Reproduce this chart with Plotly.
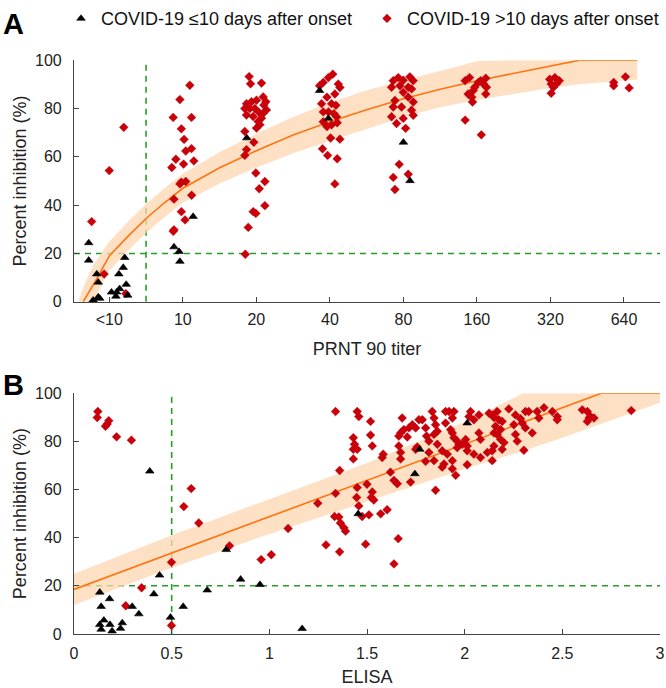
import plotly.graph_objects as go

# ---------------- Panel A data (x = index of PRNT90 titer category) ----------------
titer_labels = ["<10", "10", "20", "40", "80", "160", "320", "640"]
titer_pos = [0, 1, 2, 3, 4, 5, 6, 7]

a_early_x = [-0.28, -0.28, -0.17, -0.15, -0.22, -0.15, -0.13, 0.21, 0.19, 0.13, 0.03, 0.10, 0.14, 0.23, 0.25, 0.09,
             1.14, 0.88, 0.95, 0.96,
             1.87,
             2.86, 2.98,
             4.00, 4.09]
a_early_y = [24.4, 17.2, 11.5, 8.1, 0.7, 2.0, 1.4, 18.3, 14.2, 11.5, 4.0, 4.0, 5.4, 7.2, 2.7, 2.3,
             35.3, 22.7, 20.8, 16.7,
             67.8,
             87.4, 75.9,
             66.0, 50.1]

a_late_x = [-0.24, 0.0, 0.197, -0.07, 0.225,
            1.095, 0.96, 0.869, 1.118, 0.98, 1.017, 1.04, 1.118, 0.905, 1.15, 1.01, 0.85, 0.98, 1.04, 0.96, 1.12, 0.88,
            0.98, 1.03, 0.88, 0.87,
            1.902, 1.921, 2.07, 1.866, 1.934, 2.002, 2.093, 2.129, 2.102, 2.138, 1.843, 1.912, 1.98, 2.039, 2.093, 2.07,
            2.025, 2.002, 2.048, 1.866, 1.957, 1.843, 1.966, 1.866, 1.843, 1.993, 2.116, 2.039, 2.116, 1.957, 1.993,
            1.89, 1.85,
            3.04, 2.98, 2.91, 2.86, 3.114, 3.136, 3.068, 2.96, 2.887, 3.023, 3.082, 2.91, 2.98, 3.054, 3.091, 2.91,
            2.96, 3.023, 3.1, 3.01, 3.136, 2.9, 2.969, 3.1, 3.068,
            3.862, 3.93, 3.998, 4.088, 4.134, 3.839, 3.952, 4.066, 4.111, 3.998, 4.066, 4.134, 3.885, 3.862, 3.975,
            4.111, 4.134, 3.839, 3.907, 3.998, 4.03, 3.943, 3.862, 4.066, 3.885,
            4.84, 4.9, 4.88, 4.93, 4.94, 4.97, 5.02, 5.05, 5.09, 5.12, 5.13, 5.12, 4.84, 5.06, 4.95,
            5.99, 6.06, 6.12, 6.01, 6.08, 6.04, 6.01,
            6.86, 6.86, 7.02, 7.07]
a_late_y = [33.2, 54.3, 72.2, 11.5, 3.4,
            89.6, 83.7, 76.3, 76.3, 71.6, 67.2, 62.4, 63.4, 59.0, 58.3, 57.0, 55.6, 49.5, 49.8, 48.8, 44.1, 42.5,
            37.3, 33.9, 29.8, 29.2,
            93.2, 90.2, 90.5, 82.0, 82.8, 83.4, 84.8, 82.8, 81.4, 79.4, 80.0, 80.0, 80.0, 78.3, 78.0, 76.0,
            74.6, 71.9, 73.3, 77.3, 76.7, 70.5, 66.0, 63.0, 60.6, 53.3, 49.8, 46.8, 39.8, 37.3, 36.6,
            30.8, 19.7,
            94.2, 92.8, 90.8, 89.4, 90.1, 88.7, 86.0, 84.7, 82.0, 82.0, 81.3, 78.6, 78.6, 77.9, 76.6, 74.5,
            72.5, 73.2, 74.1, 67.8, 67.3, 63.3, 60.6, 59.2, 48.8,
            91.5, 92.8, 91.7, 93.1, 91.5, 88.8, 89.4, 88.8, 88.1, 86.7, 84.7, 82.7, 83.3, 80.6, 80.6,
            79.3, 77.2, 76.6, 73.8, 75.9, 71.8, 56.9, 51.5, 52.8, 46.5,
            91.5, 92.8, 86.0, 84.7, 82.7, 88.8, 90.8, 91.5, 90.1, 92.5, 88.8, 86.0, 75.2, 69.1, 87.4,
            92.1, 92.8, 91.5, 90.1, 90.1, 88.8, 86.3,
            90.8, 89.4, 93.1, 88.5]

# fitted curve and confidence band
fitA_x = [-0.356, -0.2, 0, 0.25, 0.5, 0.75, 1, 1.5, 2, 2.5, 3, 3.5, 4, 4.5, 5, 5.5, 6, 6.4, 7.18]
fitA_y = [0, 8, 19, 27, 34.5, 41, 47, 55.5, 62.5, 69, 74.5, 79.5, 84, 88, 91.5, 94.5, 97.5, 100, 100]
bandA_x = [-0.42, -0.356, -0.22, 0, 0.25, 0.5, 0.75, 1, 1.5, 2, 2.5, 3, 3.5, 4, 4.5, 5, 5.5, 6, 6.4, 7.18]
bandA_lo = [0, 0, 0, 13, 21, 28.5, 35, 41, 49, 55.5, 61.5, 66.5, 71.5, 76.5, 80.5, 83.5, 86, 88.5, 90, 92]
bandA_hi = [0, 6, 15, 25, 33, 40.5, 47, 53, 62, 69.5, 76.5, 82.5, 87.5, 91.5, 95.5, 99.5, 100, 100, 100, 100]

# ---------------- Panel B data (ELISA) ----------------
b_early_x = [0.388, 0.779, 0.438, 0.853, 0.952, 0.682, 0.409, 0.132, 0.182, 0.139, 0.298, 0.332, 0.559, 0.494,
             0.153, 0.132, 0.184, 0.139, 0.195, 0.247, 0.238, 1.168, 1.455, 1.745, 1.77, 2.013]
b_early_y = [67.6, 35.0, 24.4, 22.7, 20.5, 18.2, 16.6, 17.3, 14.6, 11.4, 11.4, 8.3, 11.4, 6.9,
             5.7, 3.9, 3.9, 1.9, 1.2, 4.6, 2.3, 2.2, 49.9, 66.5, 76.7, 87.6]

b_late_x = [0.122, 0.119, 0.178, 0.17, 0.161, 0.218, 0.294, 0.6, 0.562, 0.639, 0.796, 0.958, 1.01, 0.499, 0.346,
            0.265, 0.499,
            1.096, 1.248, 1.29, 1.339, 1.36, 1.339, 1.334, 1.356, 1.364, 1.382, 1.39, 1.36, 1.43, 1.436, 1.43, 1.45,
            1.43, 1.45, 1.458, 1.518, 1.518, 1.527, 1.45, 1.447, 1.458, 1.475, 1.493, 1.5, 1.527, 1.522, 1.535,
            1.51, 1.57, 1.603, 1.583, 1.578, 1.62, 1.638, 1.655, 1.638, 1.66, 1.663, 1.672, 1.68, 1.689, 1.663,
            1.672, 1.672, 1.706, 1.715, 1.723, 1.732, 1.749, 1.766, 1.783, 1.749, 1.757, 1.80, 1.817, 1.80, 1.805,
            1.817, 1.834, 1.843, 1.851, 1.843, 1.851, 1.843, 1.86, 1.86, 1.885, 1.894, 1.911, 1.885, 1.902, 1.92,
            1.937, 1.945, 1.902, 1.928, 1.937, 1.945, 1.962, 1.962, 1.971, 1.937, 1.937, 1.954,
            2.03, 2.022, 2.073, 2.047, 2.125, 2.141, 2.166, 2.15, 2.175, 2.192, 2.226, 2.26, 2.286, 2.311, 2.328,
            2.371, 2.406, 2.38, 2.449, 2.474, 2.474, 2.252, 2.295, 2.311, 2.346, 2.158, 2.184, 2.166, 2.15, 2.073,
            2.081, 2.005, 2.013, 1.988, 2.184, 2.201, 2.192, 2.15, 2.141, 2.26, 2.269, 2.303, 2.116, 2.081, 2.047,
            2.013, 2.141, 2.013, 2.628, 2.602, 2.645, 2.637, 2.662, 2.628, 2.853]
b_late_y = [92.4, 89.9, 88.6, 87.2, 86.3, 81.9, 80.5, 60.4, 52.9, 46.1, 36.6, 30.9, 32.9, 29.8, 19.2,
            11.7, 3.5,
            43.8, 54.3, 37.0, 92.4, 67.9, 58.4, 48.8, 48.6, 46.1, 44.1, 42.7, 34.1, 81.5, 78.8, 76.7, 76.7,
            72.7, 92.4, 90.3, 88.3, 82.6, 78.1, 60.8, 56.7, 53.2, 48.8, 37.3, 62.2, 59.0, 56.7, 55.6,
            49.5, 49.9, 51.6, 74.7, 73.3, 67.2, 63.8, 62.4, 29.1, 39.6, 82.2, 83.5, 89.7, 84.9, 78.1,
            75.4, 72.7, 81.8, 85.6, 63.1, 86.9, 85.6, 89.0, 89.0, 76.7, 77.7, 71.7, 75.4, 85.6, 82.2,
            80.1, 92.4, 89.7, 86.9, 72.0, 59.7, 82.9, 84.2, 78.8, 69.3, 70.6, 74.7, 76.1, 92.4, 92.4,
            89.7, 92.4, 87.6, 84.9, 83.5, 81.5, 80.1, 77.4, 78.8, 72.0, 68.6, 65.9,
            92.4, 90.3, 91.0, 89.0, 91.7, 91.0, 92.4, 89.9, 89.0, 88.3, 93.5, 91.0, 89.4, 92.4, 92.4,
            92.4, 94.0, 89.7, 92.4, 90.3, 89.0, 86.9, 87.6, 85.6, 83.5, 86.3, 84.9, 82.9, 83.5, 83.5,
            80.8, 80.8, 78.1, 78.8, 80.8, 79.5, 76.7, 78.1, 76.1, 82.9, 80.1, 76.3, 75.4, 73.3, 74.7,
            76.1, 72.0, 70.3, 92.4, 93.1, 90.3, 89.7, 89.7, 88.3, 92.8]

fitB_x = [0, 2.7, 3.0]
fitB_y = [18.5, 100, 100]
bandB_x = [0, 0.5, 1, 1.5, 2, 2.3, 2.5, 3.0]
bandB_lo = [12, 27.5, 41.5, 55, 68.5, 76, 81.5, 96]
bandB_hi = [25, 41, 56, 71, 88, 100, 100, 100]

elisa_ticks = [0, 0.5, 1, 1.5, 2, 2.5, 3]
pct_ticks = [0, 20, 40, 60, 80, 100]

# ---------------- styles ----------------
FONT = "Liberation Sans, Arial, sans-serif"
RED = "#C8000A"
ORANGE = "#FF7410"
BAND = "rgba(253,214,176,0.75)"
GREEN = "#23A023"
W, H = 666, 688

fig = go.Figure()

def add_panel(xa, ya, bx, blo, bhi, fx, fy, ex, ey, lx, ly, show):
    fig.add_trace(go.Scatter(x=bx, y=blo, mode="lines", line=dict(width=0), hoverinfo="skip",
                             showlegend=False, xaxis=xa, yaxis=ya))
    fig.add_trace(go.Scatter(x=bx, y=bhi, mode="lines", line=dict(width=0), fill="tonexty",
                             fillcolor=BAND, hoverinfo="skip", showlegend=False, xaxis=xa, yaxis=ya))
    fig.add_trace(go.Scatter(x=fx, y=fy, mode="lines", line=dict(color=ORANGE, width=1.6),
                             showlegend=False, xaxis=xa, yaxis=ya))
    fig.add_trace(go.Scatter(x=lx, y=ly, mode="markers", name="COVID-19 >10 days after onset",
                             marker=dict(symbol="diamond", size=6.8, color=RED,
                                         line=dict(color=RED, width=0.4)),
                             cliponaxis=False, showlegend=show, legend="legend2", xaxis=xa, yaxis=ya))
    fig.add_trace(go.Scatter(x=ex, y=ey, mode="markers", name="COVID-19 \u226410 days after onset",
                             marker=dict(symbol="triangle-up", size=7.5, color="black",
                                         line=dict(color="black", width=0.6)),
                             cliponaxis=False, showlegend=show, legend="legend", xaxis=xa, yaxis=ya))

add_panel("x", "y", bandA_x, bandA_lo, bandA_hi, fitA_x, fitA_y, a_early_x, a_early_y, a_late_x, a_late_y, True)
add_panel("x2", "y2", bandB_x, bandB_lo, bandB_hi, fitB_x, fitB_y, b_early_x, b_early_y, b_late_x, b_late_y, False)

# threshold lines
dash = dict(color=GREEN, width=1.6, dash="6px,5px")
fig.add_shape(type="line", xref="x", yref="y", x0=-0.48, x1=7.49, y0=20, y1=20, line=dash, layer="below")
fig.add_shape(type="line", xref="x", yref="y", x0=0.5, x1=0.5, y0=0, y1=100, line=dash, layer="below")
fig.add_shape(type="line", xref="x2", yref="y2", x0=0, x1=3, y0=20, y1=20, line=dash, layer="below")
fig.add_shape(type="line", xref="x2", yref="y2", x0=0.5, x1=0.5, y0=0, y1=100, line=dash, layer="below")

xd = [74 / W, 660 / W]
axis_common = dict(showline=True, linecolor="#444", linewidth=1.2, ticks="inside", ticklen=5,
                   tickcolor="#444", tickwidth=1.2, showgrid=False, zeroline=False,
                   tickfont=dict(family=FONT, size=16, color="#222"), automargin=False,
                   ticklabeloverflow="allow")
title_font = dict(family=FONT, size=18, color="#222")

fig.update_layout(
    width=W, height=H, margin=dict(l=0, r=0, t=0, b=0),
    plot_bgcolor="white", paper_bgcolor="white",
    font=dict(family=FONT, color="#222"),
    xaxis=dict(domain=xd, range=[-0.48, 7.49], tickvals=titer_pos, ticktext=titer_labels, anchor="y",
               ticklabelstandoff=3,
               title=dict(text="PRNT 90 titer", font=title_font, standoff=15), **axis_common),
    yaxis=dict(domain=[1 - 295 / H, 1 - 49 / H], range=[0, 100], tickvals=pct_ticks, anchor="x",
               ticklabelstandoff=8,
               title=dict(text="Percent inhibition (%)", font=title_font, standoff=3), **axis_common),
    xaxis2=dict(domain=xd, range=[0, 3], tickvals=elisa_ticks, anchor="y2",
                ticklabelstandoff=5,
                title=dict(text="ELISA", font=title_font, standoff=9), **axis_common),
    yaxis2=dict(domain=[1 - 633 / H, 1 - 388 / H], range=[0, 100], tickvals=pct_ticks, anchor="x2",
                ticklabelstandoff=8,
                title=dict(text="Percent inhibition (%)", font=title_font, standoff=3), **axis_common),
    legend=dict(x=61 / W, y=1 + 12 / H, xanchor="left", yanchor="top", orientation="h",
                font=dict(family=FONT, size=18, color="#111"), bgcolor="rgba(0,0,0,0)"),
    legend2=dict(x=367 / W, y=1 + 12 / H, xanchor="left", yanchor="top", orientation="h",
                 font=dict(family=FONT, size=18, color="#111"), bgcolor="rgba(0,0,0,0)"),
    annotations=[
        dict(text="<b>A</b>", x=1 / W, y=1 - 12 / H, xref="paper", yref="paper", xanchor="left",
             yanchor="middle", showarrow=False, font=dict(family=FONT, size=29, color="black")),
        dict(text="<b>B</b>", x=1 / W, y=1 - 380 / H, xref="paper", yref="paper", xanchor="left",
             yanchor="middle", showarrow=False, font=dict(family=FONT, size=29, color="black")),
    ],
)

fig.write_html("out.html", config={"displayModeBar": False},
               post_script="document.body.style.margin='0';")
